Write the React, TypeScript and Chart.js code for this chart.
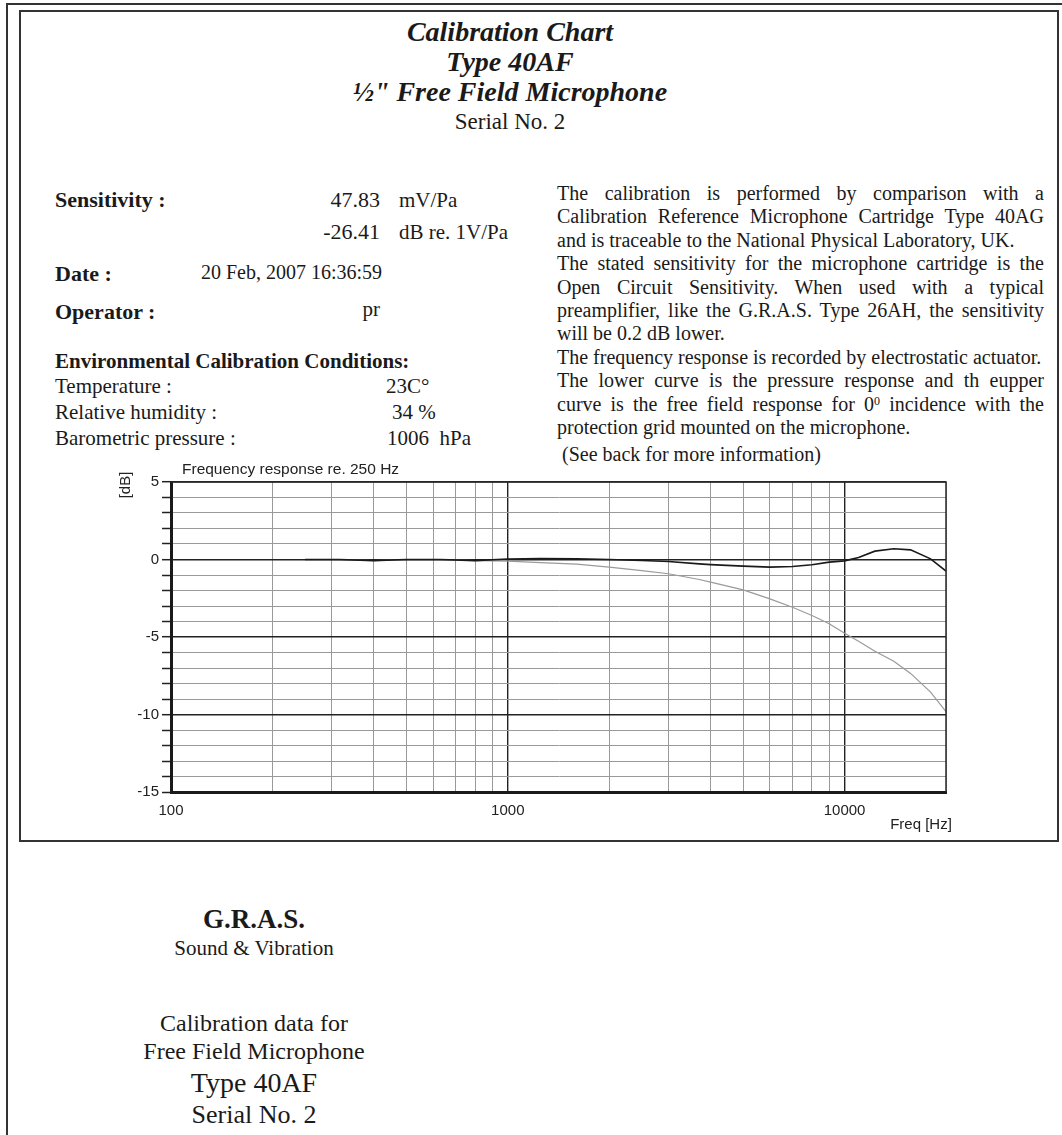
import React, { useEffect, useRef } from 'react';
import { Chart, registerables } from 'chart.js';

Chart.register(...registerables);

// ---------- chart data ----------
const frequenciesHz = [250, 315, 400, 500, 630, 800, 1000, 1250, 1600, 2000, 2500, 3000, 3700, 4000, 5000, 6000, 7000, 8000, 9000, 10000, 11000, 12300, 14000, 15700, 18000, 20000];
const freeFieldDb = [0, 0, -0.07, 0, 0, -0.07, 0.03, 0.06, 0.04, 0, -0.06, -0.13, -0.28, -0.33, -0.43, -0.49, -0.45, -0.34, -0.17, -0.09, 0.13, 0.54, 0.69, 0.62, 0.04, -0.75];
const pressureDb = [0, 0, -0.07, 0, 0, -0.07, -0.11, -0.2, -0.3, -0.49, -0.72, -0.92, -1.29, -1.46, -1.96, -2.54, -3.08, -3.61, -4.15, -4.76, -5.28, -5.92, -6.56, -7.35, -8.56, -9.82];

const xGridTicks = [100, 200, 300, 400, 500, 600, 700, 800, 900, 1000, 2000, 3000, 4000, 5000, 6000, 7000, 8000, 9000, 10000, 20000];
const xLabelTicks = [100, 1000, 10000];
const xMajorLines = [1000, 10000];
const yGridTicks = [5, 4, 3, 2, 1, 0, -1, -2, -3, -4, -5, -6, -7, -8, -9, -10, -11, -12, -13, -14, -15];
const yLabelTicks = [5, 0, -5, -10, -15];
const yMajorLines = [5, 0, -5, -10];

const chartTitle = 'Frequency response re. 250 Hz';
const yAxisTitle = '[dB]';
const xAxisTitle = 'Freq [Hz]';

// ---------- page text ----------
const titleLines = ['Calibration Chart', 'Type 40AF', '\u00BD" Free Field Microphone'];
const noteLines: [string, boolean][] = [
  ['The calibration is performed by comparison with a', true],
  ['Calibration Reference Microphone Cartridge Type 40AG', true],
  ['and is traceable to the National Physical Laboratory, UK.', false],
  ['The stated sensitivity for the microphone cartridge is the', true],
  ['Open Circuit Sensitivity. When used with a typical', true],
  ['preamplifier, like the G.R.A.S. Type 26AH, the sensitivity', true],
  ['will be 0.2 dB lower.', false],
  ['The frequency response is recorded by electrostatic actuator.', false],
  ['The lower curve is the pressure response and th eupper', true],
  ['curve is the free field response for 0^ incidence with the', true],
  ['protection grid mounted on the microphone.', false],
];

const SERIF = '"Liberation Serif", "Times New Roman", serif';
const SANS = '"Liberation Sans", Arial, sans-serif';

type TxtProps = {
  x?: number; rx?: number; cx?: number; y: number; fs: number;
  bold?: boolean; italic?: boolean; pre?: boolean; children: React.ReactNode;
};

function Txt({ x, rx, cx, y, fs, bold, italic, pre, children }: TxtProps) {
  const style: React.CSSProperties = {
    position: 'absolute',
    top: y - fs * 0.53,
    fontSize: fs,
    lineHeight: `${fs}px`,
    fontWeight: bold ? 'bold' : 'normal',
    fontStyle: italic ? 'italic' : 'normal',
    whiteSpace: pre ? 'pre' : 'nowrap',
  };
  if (cx !== undefined) {
    style.left = cx - 400;
    style.width = 800;
    style.textAlign = 'center';
  } else if (rx !== undefined) {
    style.right = 1062 - rx;
    style.textAlign = 'right';
  } else {
    style.left = x;
  }
  return <div style={style}>{children}</div>;
}

const framePlugin = {
  id: 'frameAndTitles',
  afterDraw(chart: any) {
    const { ctx, chartArea } = chart;
    const { left, right, top, bottom } = chartArea;
    ctx.save();
    ctx.strokeStyle = '#2a2a2a';
    ctx.lineWidth = 1.5;
    ctx.beginPath();
    ctx.moveTo(left, top);
    ctx.lineTo(right, top);
    ctx.lineTo(right, bottom);
    ctx.stroke();

    ctx.fillStyle = '#222';
    ctx.textBaseline = 'middle';
    ctx.font = `15.5px ${SANS}`;
    ctx.textAlign = 'left';
    ctx.fillText(chartTitle, left + 11, top - 12);

    ctx.font = `15px ${SANS}`;
    ctx.textAlign = 'center';
    ctx.fillText(xAxisTitle, right - 25, bottom + 33);

    ctx.translate(left - 45, top + 3);
    ctx.rotate(-Math.PI / 2);
    ctx.fillText(yAxisTitle, 0, 0);
    ctx.restore();
  },
};

export default function App() {
  const ref = useRef<HTMLCanvasElement>(null);

  useEffect(() => {
    const canvas = ref.current;
    if (!canvas) return;
    const chart = new Chart(canvas, {
      type: 'line',
      data: {
        datasets: [
          {
            label: 'Free field',
            data: frequenciesHz.map((f, i) => ({ x: f, y: freeFieldDb[i] })),
            borderColor: '#1a1a1a',
            borderWidth: 1.6,
            pointRadius: 0,
            tension: 0,
          },
          {
            label: 'Pressure',
            data: frequenciesHz.map((f, i) => ({ x: f, y: pressureDb[i] })),
            borderColor: '#9a9a9a',
            borderWidth: 1.2,
            pointRadius: 0,
            tension: 0,
          },
        ],
      },
      options: {
        animation: false,
        responsive: false,
        maintainAspectRatio: false,
        layout: { padding: { left: 0, top: 32, right: 54, bottom: 0 } },
        plugins: {
          legend: { display: false },
          tooltip: { enabled: false },
          title: { display: false },
        },
        scales: {
          x: {
            type: 'logarithmic',
            min: 100,
            max: 20000,
            afterBuildTicks: (s: any) => {
              s.ticks = xGridTicks.map((v) => ({ value: v }));
            },
            afterFit: (s: any) => {
              s.height = 53;
            },
            ticks: {
              autoSkip: false,
              maxRotation: 0,
              minRotation: 0,
              color: '#222',
              padding: 10,
              font: { family: SANS, size: 15 },
              callback: (v: any) => (xLabelTicks.includes(Number(v)) ? String(v) : ''),
            },
            grid: {
              drawTicks: false,
              color: (c: any) => (c.tick && xMajorLines.includes(c.tick.value) ? '#222' : '#9a9a9a'),
              lineWidth: (c: any) => (c.tick && xMajorLines.includes(c.tick.value) ? 1.4 : 1),
            },
            border: { color: '#1a1a1a', width: 3 },
          },
          y: {
            type: 'linear',
            min: -15,
            max: 5,
            afterBuildTicks: (s: any) => {
              s.ticks = yGridTicks.map((v) => ({ value: v }));
            },
            afterFit: (s: any) => {
              s.width = 71;
            },
            ticks: {
              autoSkip: false,
              color: '#222',
              padding: 3,
              font: { family: SANS, size: 15 },
              callback: (v: any) => (yLabelTicks.includes(Number(v)) ? String(v) : ''),
            },
            grid: {
              drawTicks: true,
              tickLength: 9,
              tickColor: '#222',
              tickWidth: 1.5,
              color: (c: any) => (c.tick && yMajorLines.includes(c.tick.value) ? '#222' : '#9a9a9a'),
              lineWidth: (c: any) => (c.tick && yMajorLines.includes(c.tick.value) ? 1.4 : 1),
            },
            border: { color: '#1a1a1a', width: 3 },
          },
        },
      } as any,
      plugins: [framePlugin],
    });
    return () => chart.destroy();
  }, []);

  return (
    <div
      style={{
        position: 'absolute', left: 0, top: 0, width: 1062, height: 1135,
        overflow: 'hidden', background: '#fff', fontFamily: SERIF, color: '#1a1a1a',
      }}
    >
      {/* page frames */}
      <div style={{ position: 'absolute', left: 6, top: 3, width: 1200, height: 1300, borderLeft: '2px solid #333', borderTop: '2px solid #333' }} />
      <div style={{ position: 'absolute', left: 19, top: 10, width: 1036, height: 828, border: '2px solid #333' }} />

      {/* title */}
      {titleLines.map((t, i) => (
        <Txt key={t} cx={510} y={33 + i * 30} fs={28} bold italic>{t}</Txt>
      ))}
      <Txt cx={510} y={122} fs={23}>Serial No. 2</Txt>

      {/* left column */}
      <Txt x={55} y={201} fs={22} bold>Sensitivity :</Txt>
      <Txt rx={380} y={201} fs={22}>47.83</Txt>
      <Txt x={399} y={201} fs={21}>mV/Pa</Txt>
      <Txt rx={380} y={233} fs={22}>-26.41</Txt>
      <Txt x={399} y={233} fs={21}>dB re. 1V/Pa</Txt>
      <Txt x={55} y={275} fs={22} bold>Date :</Txt>
      <Txt rx={382} y={273} fs={20}>20 Feb, 2007 16:36:59</Txt>
      <Txt x={55} y={313} fs={22} bold>Operator :</Txt>
      <Txt rx={380} y={310} fs={21}>pr</Txt>
      <Txt x={55} y={362} fs={21} bold>Environmental Calibration Conditions:</Txt>
      <Txt x={55} y={387} fs={21}>Temperature :</Txt>
      <Txt x={386} y={387} fs={21}>23C°</Txt>
      <Txt x={55} y={413} fs={21}>Relative humidity :</Txt>
      <Txt x={392} y={413} fs={21}>34 %</Txt>
      <Txt x={55} y={439} fs={21}>Barometric pressure :</Txt>
      <Txt x={387} y={439} fs={21} pre>{'1006  hPa'}</Txt>

      {/* right column notes */}
      {noteLines.map(([line, justify], i) => {
        const parts = line.split('^');
        return (
          <div
            key={i}
            style={{
              position: 'absolute', left: 557, top: 182 + i * 23.4, width: 487,
              fontSize: 20, lineHeight: '23.4px',
              textAlign: justify ? 'justify' : 'left',
              textAlignLast: justify ? 'justify' : 'left',
              whiteSpace: justify ? 'normal' : 'nowrap',
            } as React.CSSProperties}
          >
            {parts.length > 1 ? (
              <>
                {parts[0]}
                <span style={{ position: 'relative', top: '-0.45em', fontSize: '0.6em' }}>0</span>
                {parts[1]}
              </>
            ) : line}
          </div>
        );
      })}
      <Txt x={562} y={455} fs={20}>(See back for more information)</Txt>

      {/* chart */}
      <canvas
        ref={ref}
        width={900}
        height={395}
        style={{ position: 'absolute', left: 100, top: 450, width: 900, height: 395 }}
      />

      {/* footer */}
      <Txt cx={254} y={920} fs={27} bold>G.R.A.S.</Txt>
      <Txt cx={254} y={949} fs={21}>Sound &amp; Vibration</Txt>
      <Txt cx={254} y={1024} fs={24}>Calibration data for</Txt>
      <Txt cx={254} y={1052} fs={24}>Free Field Microphone</Txt>
      <Txt cx={254} y={1084} fs={28}>Type 40AF</Txt>
      <Txt cx={254} y={1116} fs={26}>Serial No. 2</Txt>
    </div>
  );
}
